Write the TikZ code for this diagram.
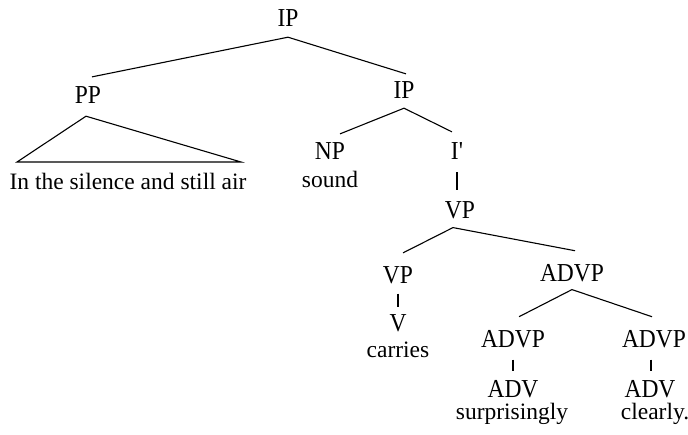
\documentclass[tikz,border=0pt]{standalone}
\usepackage{fontspec}
\usepackage{graphicx}
\setmainfont{Liberation Serif}
\newcommand{\lbltxt}[1]{\scalebox{1}[1.1]{#1}}
\begin{document}
\begin{tikzpicture}[x=1pt,y=-1pt,
  lab/.style={anchor=base,inner xsep=0pt,inner ysep=10pt,font=\fontsize{23.5}{28}\selectfont},
  word/.style={anchor=base,inner sep=0pt,font=\fontsize{23.5}{28}\selectfont},
  edge/.style={line width=1.1pt,black}]
\useasboundingbox[fill=white] (0,0) rectangle (688,435);
% labels
\node[lab] (ip) at (288,27) {\lbltxt{IP}};
\node[lab] (pp) at (88,104) {\lbltxt{PP}};
\node[lab] (ip2) at (404,99) {\lbltxt{IP}};
\node[lab] (np) at (330,160) {\lbltxt{NP}};
\node[lab] (ibar) at (457,160) {\lbltxt{I\textquotesingle}};
\node[lab] (vp) at (460,219) {\lbltxt{VP}};
\node[lab] (vp2) at (398,284) {\lbltxt{VP}};
\node[lab] (advp) at (572,282) {\lbltxt{ADVP}};
\node[lab] (v) at (398,332) {\lbltxt{V}};
\node[lab] (advpa) at (513,348) {\lbltxt{ADVP}};
\node[lab] (advpb) at (654,348) {\lbltxt{ADVP}};
\node[lab] (adva) at (513,398) {\lbltxt{ADV}};
\node[lab] (advb) at (650,398) {\lbltxt{ADV}};
% words
\node[word] (w1) at (128,190) {In the silence and still air};
\node[word] (w2) at (330,188) {sound};
\node[word] (w3) at (398,358) {carries};
\node[word] (w4) at (512,420) {surprisingly};
\node[word] (w5) at (655,420) {clearly.};
\coordinate (tl) at (17,162);
\coordinate (tr) at (241,162);
% edges
\draw[edge] ([xshift=4pt]pp.north) -- (ip.south) -- ([xshift=2pt,yshift=-2pt]ip2.north);
\draw[edge,line join=miter] ([xshift=-2pt,yshift=-2pt]pp.south) -- (tr) -- (tl) -- cycle;
\draw[edge] ([xshift=10pt,yshift=-1pt]np.north) -- ([yshift=1pt]ip2.south) -- ([xshift=-5pt,yshift=1pt]ibar.north);
\draw[edge] ([yshift=-2pt]ibar.south) -- ([yshift=2pt]ibar.south |- vp.north);
\draw[edge] ([xshift=5pt,yshift=4pt]vp2.north) -- ([xshift=-7pt,yshift=2pt]vp.south) -- ([xshift=3pt,yshift=4pt]advp.north);
\draw[edge] ([yshift=1pt]vp2.south) -- ([yshift=-2pt]vp2.south |- v.north);
\draw[edge] ([xshift=6pt,yshift=4pt]advpa.north) -- ([yshift=3pt]advp.south) -- ([xshift=-2pt,yshift=4pt]advpb.north);
\draw[edge] ([yshift=-1pt]advpa.south) -- ([yshift=0pt]advpa.south |- adva.north);
\draw[edge] ([xshift=-3pt,yshift=-1pt]advpb.south) -- ([xshift=-3pt]advpb.south |- advb.north);
\end{tikzpicture}
\end{document}
